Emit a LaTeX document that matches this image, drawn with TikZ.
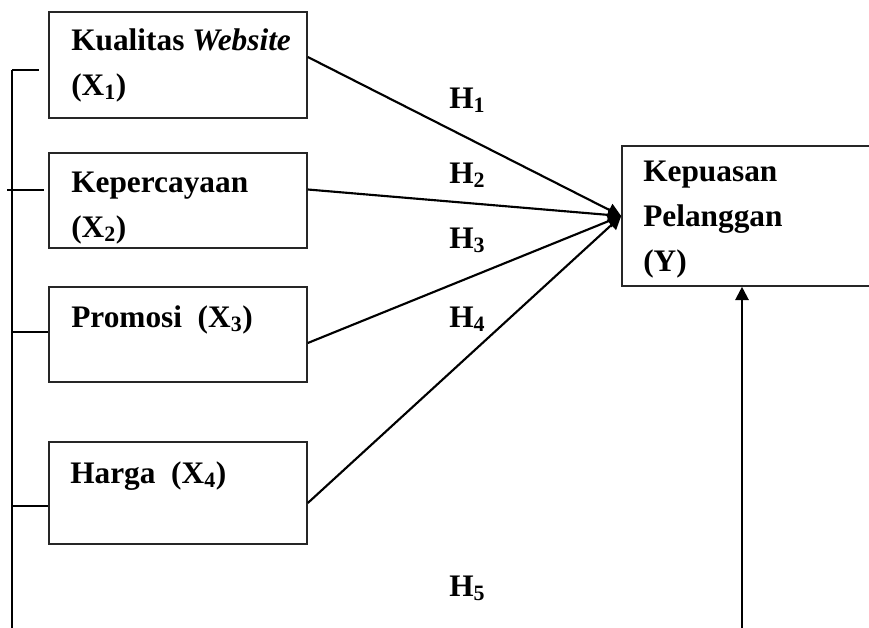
\documentclass[tikz,border=0pt]{standalone}
\usepackage{fontspec}
\setmainfont{Liberation Serif}
\usetikzlibrary{arrows.meta,calc}

\begin{document}
\begin{tikzpicture}[x=0.75pt, y=-0.75pt]
 \tikzset{
varbox/.style = {rectangle, draw=black!85, line width=1.2pt, minimum width=193.5pt, inner sep=0pt},
vartext/.style = {anchor=base west, align=left, inner sep=0pt, font=\bfseries\fontsize{23.5}{33.75}\selectfont},
hyp/.style = {anchor=base west, inner sep=0pt, font=\bfseries\fontsize{23.5}{28}\selectfont},
link/.style = {draw, line width=1.6pt, -{Triangle[length=10pt,width=10pt]}},
bus/.style = {draw, line width=1pt}}

    \clip (0,0) rectangle (869,628);

    \node [varbox, minimum height=79.5pt] (X1) at (178,65) {};
    \node [varbox, minimum height=71.25pt] (X2) at (178,200.5) {};
    \node [varbox, minimum height=71.25pt] (X3) at (178,334.5) {};
    \node [varbox, minimum height=76.5pt] (X4) at (178,493) {};
    \node [varbox, minimum width=208.5pt, minimum height=105pt] (Y) at (761,216) {};

    \node [vartext] (T1) at (71,95) {Kualitas \textit{Website}\\(X\textsubscript{1})};
    \node [vartext] (T2) at (71,237) {Kepercayaan\\(X\textsubscript{2})};
    \node [vartext] (T3) at (71,327) {Promosi\ \ (X\textsubscript{3})};
    \node [vartext] (T4) at (70,483) {Harga\ \ (X\textsubscript{4})};
    \node [vartext] (TY) at (643,271) {Kepuasan\\Pelanggan\\(Y)};

    \node [hyp] (H1) at (449,108) {H\textsubscript{1}};
    \node [hyp] (H2) at (449,183) {H\textsubscript{2}};
    \node [hyp] (H3) at (449,248) {H\textsubscript{3}};
    \node [hyp] (H4) at (449,327) {H\textsubscript{4}};
    \node [hyp] (H5) at (449,596) {H\textsubscript{5}};

    \draw [link] ([shift={(0,-8)}]X1.east) -- (Y.west);
    \draw [link] ([shift={(0,-11)}]X2.east) -- (Y.west);
    \draw [link] ([shift={(0,8.5)}]X3.east) -- (Y.west);
    \draw [link] ([shift={(0,10)}]X4.east) -- (Y.west);

    \coordinate (B1) at (12,70);
    \coordinate (B2) at (7,190);
    \coordinate (B3) at (12,332);
    \coordinate (B4) at (12,506);
    \coordinate (B0) at (12,640);
    \draw [bus] (B1) -- (B0);
    \draw [bus, shorten >=6.75pt] (B1) -- (B1 -| X1.west);
    \draw [bus, shorten >=3pt] (B2) -- (B2 -| X2.west);
    \draw [bus] (B3) -- (B3 -| X3.west);
    \draw [bus] (B4) -- (B4 -| X4.west);

    \coordinate (YB) at (742,640);
    \draw [link] (YB) -- (YB |- Y.south);

\end{tikzpicture}
\end{document}
